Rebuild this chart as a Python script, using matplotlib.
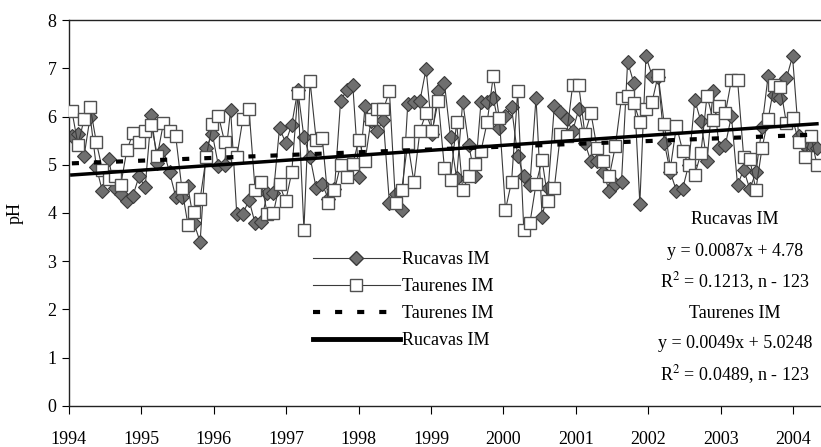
import numpy as np
import matplotlib.pyplot as plt
from matplotlib.lines import Line2D

plt.rcParams['font.family'] = ['Liberation Serif', 'DejaVu Serif']
plt.rcParams['mathtext.fontset'] = 'stix'

# Monthly pH observations, 123 samples per station
rucavas = [5.60, 5.64, 5.18, 6.00, 4.96, 4.45, 5.12, 4.52, 4.40, 4.24,
           4.36, 4.76, 4.53, 6.03, 5.03, 5.30, 4.84, 4.34, 4.34, 4.55,
           3.79, 3.40, 5.34, 5.64, 4.98, 5.00, 6.14, 3.98, 3.98, 4.27,
           3.79, 3.82, 4.41, 4.41, 5.76, 5.46, 5.83, 6.55, 5.57, 5.16,
           4.52, 4.60, 4.29, 4.50, 6.32, 6.55, 6.65, 4.74, 6.21, 5.90,
           5.71, 5.93, 4.20, 4.40, 4.07, 6.26, 6.31, 6.33, 6.99, 5.64,
           6.54, 6.70, 5.57, 4.72, 6.31, 5.40, 4.76, 6.31, 6.31, 6.38,
           5.76, 6.01, 6.19, 5.18, 4.76, 4.58, 6.39, 3.92, 4.52, 6.22,
           6.09, 5.94, 5.70, 6.15, 5.45, 5.07, 5.07, 4.84, 4.46, 4.60,
           4.65, 7.14, 6.70, 4.19, 7.25, 6.85, 6.83, 5.46, 4.84, 4.46,
           4.50, 5.00, 6.34, 5.90, 5.07, 6.54, 5.34, 5.41, 6.01, 4.58,
           4.90, 4.50, 4.84, 5.79, 6.84, 6.45, 6.38, 6.79, 7.25, 5.60,
           5.41, 5.41, 5.35]

taurenes = [6.12, 5.42, 5.94, 6.20, 5.47, 4.90, 4.70, 4.76, 4.58, 5.30,
            5.65, 5.47, 5.70, 5.83, 5.19, 5.87, 5.70, 5.60, 4.52, 3.76,
            4.03, 4.29, 5.16, 5.84, 6.02, 5.48, 5.25, 5.16, 5.95, 6.16,
            4.48, 4.65, 3.98, 4.00, 4.60, 4.24, 4.84, 6.48, 3.65, 6.74,
            5.52, 5.56, 4.20, 4.47, 5.00, 4.74, 5.02, 5.52, 5.07, 5.94,
            6.15, 6.15, 6.52, 4.20, 4.47, 5.46, 4.65, 5.71, 6.07, 5.71,
            6.33, 4.93, 4.69, 5.88, 4.48, 4.76, 5.02, 5.29, 5.88, 6.84,
            5.96, 4.07, 4.65, 6.52, 3.65, 3.79, 4.60, 5.10, 4.24, 4.52,
            5.64, 5.60, 6.65, 6.65, 5.64, 6.07, 5.34, 5.07, 4.76, 5.39,
            6.39, 6.43, 6.29, 5.89, 6.15, 6.30, 6.86, 5.84, 4.93, 5.81,
            5.29, 5.00, 4.79, 5.24, 6.43, 5.93, 6.21, 6.07, 6.76, 6.76,
            5.17, 5.12, 4.48, 5.34, 5.94, 6.65, 6.62, 5.86, 5.96, 5.48,
            5.17, 5.60, 5.00]

years = list(range(1994, 2005))

# linear trends against sample number n = 1..123
ruc_slope, ruc_icpt = 0.0087, 4.78
tau_slope, tau_icpt = 0.0049, 5.0248

n = np.arange(1, len(rucavas) + 1)
t = np.linspace(1994.04, 2004.33, len(rucavas))

fig = plt.figure(figsize=(8.21, 4.47), dpi=100)
ax = fig.add_axes([0.084, 0.092, 0.916, 0.863])

line_col = '#3a3a3a'
dash = (0, (1.7, 3.6))
ax.plot(t, rucavas, '-', color=line_col, lw=0.8, marker='D', ms=7.5,
        mfc='#6f6f6f', mec='#3a3a3a', mew=0.8, zorder=2)
ax.plot(t, taurenes, '-', color=line_col, lw=0.8, marker='s', ms=8.5,
        mfc='white', mec='#505050', mew=1.0, zorder=3)
ax.plot(t, tau_slope * n + tau_icpt, color='black', lw=3,
        linestyle=dash, zorder=4)
ax.plot(t, ruc_slope * n + ruc_icpt, color='black', lw=2.5, zorder=5)

ax.set_xlim(1994, 2004.386)
ax.set_ylim(0, 8)
ax.set_xticks(years)
ax.set_yticks(range(0, 9))
ax.tick_params(axis='x', direction='out', length=6, width=0.8, pad=12, labelsize=13)
ax.tick_params(axis='y', direction='out', length=5, width=0.8, pad=4, labelsize=13)
ax.spines['right'].set_visible(False)
for s in ['left', 'bottom', 'top']:
    ax.spines[s].set_linewidth(1.0)
    ax.spines[s].set_color('#222222')
ax.set_ylabel('pH', fontsize=13, labelpad=17)

handles = [
    Line2D([], [], color=line_col, lw=0.8, marker='D', ms=7.5,
           mfc='#6f6f6f', mec='#3a3a3a'),
    Line2D([], [], color=line_col, lw=0.8, marker='s', ms=8.5,
           mfc='white', mec='#505050'),
    Line2D([], [], color='black', lw=3, linestyle=dash),
    Line2D([], [], color='black', lw=3.5),
]
labels = ['Rucavas IM', 'Taurenes IM', 'Taurenes IM', 'Rucavas IM']
ax.legend(handles, labels, loc='upper left', bbox_to_anchor=(0.315, 0.42),
          frameon=False, fontsize=13, handlelength=4.8, handletextpad=0.1,
          labelspacing=0.55, borderaxespad=0)

stats = [
    ('Rucavas IM', 220),
    ('y = 0.0087x + 4.78', 251),
    (r'R$^2$ = 0.1213, n - 123', 282),
    ('Taurenes IM', 313),
    ('y = 0.0049x + 5.0248', 344),
    (r'R$^2$ = 0.0489, n - 123', 375),
]
for txt, ypix in stats:
    fig.text(735 / 821, 1 - ypix / 447, txt, ha='center', va='center', fontsize=13)

fig.savefig('out.png', dpi=100)
